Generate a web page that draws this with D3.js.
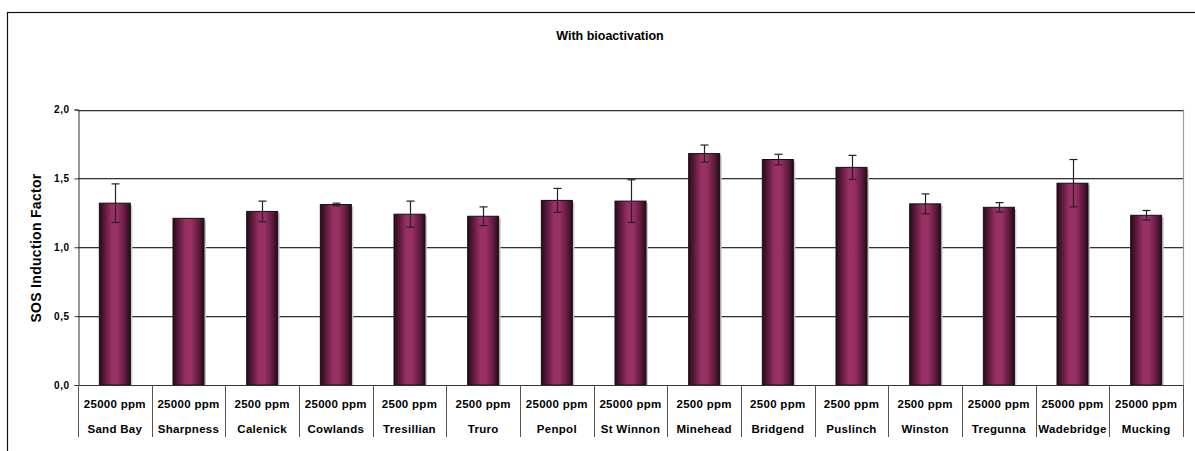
<!DOCTYPE html>
<html>
<head>
<meta charset="utf-8">
<script src="https://cdn.jsdelivr.net/npm/d3@7"></script>
<style>
  html, body { margin: 0; padding: 0; background: #fff; }
  svg { display: block; font-family: "Liberation Sans", Arial, sans-serif; font-weight: bold; }
</style>
</head>
<body>
<div class="chart"></div>
<script>
// chart data
var sites = ["Sand Bay", "Sharpness", "Calenick", "Cowlands", "Tresillian", "Truro", "Penpol",
  "St Winnon", "Minehead", "Bridgend", "Puslinch", "Winston", "Tregunna", "Wadebridge", "Mucking"];
var doses = ["25000 ppm", "25000 ppm", "2500 ppm", "25000 ppm", "2500 ppm", "2500 ppm", "25000 ppm",
  "25000 ppm", "2500 ppm", "2500 ppm", "2500 ppm", "2500 ppm", "25000 ppm", "25000 ppm", "25000 ppm"];
var values = [1.32, 1.21, 1.26, 1.31, 1.24, 1.225, 1.34, 1.335, 1.68, 1.637, 1.58, 1.315, 1.29, 1.465, 1.232];
var errors = [0.14, 0, 0.075, 0.01, 0.095, 0.068, 0.087, 0.155, 0.062, 0.038, 0.087, 0.072, 0.034, 0.172, 0.035];
var yTicks = [0, 0.5, 1.0, 1.5, 2.0];
var title = "With bioactivation";
var yTitle = "SOS Induction Factor";

var svgWidth = 1195;
var svgHeight = 451;
var plot = {left: 78, right: 1183, top: 109.5, bottom: 385};

var svg = d3.select(".chart").append("svg")
  .attr("width", svgWidth)
  .attr("height", svgHeight);

// outer chart frame (runs off the right and bottom edge)
svg.append("rect")
  .attr("x", 7.5).attr("y", 12.5)
  .attr("width", 1200).attr("height", 460)
  .attr("fill", "#fff").attr("stroke", "#111").attr("stroke-width", 1.2);

var defs = svg.append("defs");
var grad = defs.append("linearGradient").attr("id", "barGrad")
  .attr("x1", "0%").attr("x2", "100%").attr("y1", "0%").attr("y2", "0%");
[["0%", "#2a0a1b"], ["18%", "#5c1a3c"], ["40%", "#983063"], ["58%", "#9a3165"], ["82%", "#621c41"], ["100%", "#2a0a1b"]]
  .forEach(function(s) { grad.append("stop").attr("offset", s[0]).attr("stop-color", s[1]); });

var x = d3.scaleBand().domain(sites).range([plot.left, plot.right]).padding(0);
var y = d3.scaleLinear().domain([0, 2]).range([plot.bottom, plot.top]);

// plot area right border
svg.append("line")
  .attr("x1", plot.right + 0.5).attr("x2", plot.right + 0.5)
  .attr("y1", plot.top).attr("y2", plot.bottom)
  .attr("stroke", "#999").attr("stroke-width", 1.2);

// gridlines with their light shadow
var grid = svg.append("g");
yTicks.filter(function(d) { return d > 0; }).forEach(function(t) {
  grid.append("line")
    .attr("x1", plot.left).attr("x2", plot.right)
    .attr("y1", Math.round(y(t)) + 1.5).attr("y2", Math.round(y(t)) + 1.5)
    .attr("stroke", "#c4c4c4");
  grid.append("line")
    .attr("x1", plot.left).attr("x2", plot.right)
    .attr("y1", Math.round(y(t)) + 0.5).attr("y2", Math.round(y(t)) + 0.5)
    .attr("stroke", "#333");
});

// y axis
var leftAxis = d3.axisLeft(y).tickValues(yTicks).tickSize(4).tickPadding(5)
  .tickFormat(function(d) { return d3.format(".1f")(d).replace(".", ","); });
var yAxis = svg.append("g").attr("transform", "translate(" + (plot.left + 0.5) + ",0)").call(leftAxis);
yAxis.select(".domain").attr("stroke", "#333");
yAxis.selectAll(".tick line").attr("stroke", "#333");
yAxis.selectAll("text")
  .attr("font-family", "Liberation Sans, Arial, sans-serif")
  .attr("font-weight", "bold")
  .attr("font-size", "10px")
  .attr("letter-spacing", "0.5px")
  .attr("fill", "#000");

// bars
var barW = 31;
var bars = svg.append("g");
bars.selectAll(".shadow").data(values).enter().append("rect")
  .attr("class", "shadow")
  .attr("x", function(d, i) { return x(sites[i]) + x.bandwidth() / 2 - barW / 2 + 2; })
  .attr("y", function(d) { return y(d) + 2; })
  .attr("width", barW)
  .attr("height", function(d) { return plot.bottom - y(d) - 2; })
  .attr("fill", "#c8c8c8");
bars.selectAll(".bar").data(values).enter().append("rect")
  .attr("class", "bar")
  .attr("x", function(d, i) { return x(sites[i]) + x.bandwidth() / 2 - barW / 2; })
  .attr("y", function(d) { return y(d); })
  .attr("width", barW)
  .attr("height", function(d) { return plot.bottom - y(d); })
  .attr("fill", "url(#barGrad)")
  .attr("stroke", "#111").attr("stroke-width", 1);

// error bars
var err = svg.append("g").attr("stroke", "#222").attr("stroke-width", 1.2);
values.forEach(function(v, i) {
  if (!errors[i]) return;
  var cx = Math.round(x(sites[i]) + x.bandwidth() / 2) + 0.5;
  var y0 = y(v + errors[i]), y1 = y(v - errors[i]);
  err.append("line").attr("x1", cx).attr("x2", cx).attr("y1", y0).attr("y2", y1);
  err.append("line").attr("x1", cx - 4).attr("x2", cx + 4).attr("y1", y0).attr("y2", y0);
  err.append("line").attr("x1", cx - 4).attr("x2", cx + 4).attr("y1", y1).attr("y2", y1);
});

// category axis with two label rows
var cat = svg.append("g");
cat.append("line")
  .attr("x1", plot.left).attr("x2", plot.right)
  .attr("y1", plot.bottom + 0.5).attr("y2", plot.bottom + 0.5)
  .attr("stroke", "#333");
var bounds = sites.map(function(s) { return x(s); }).concat([plot.right]);
cat.selectAll(".div").data(bounds).enter().append("line")
  .attr("x1", function(d) { return Math.round(d) + 0.5; })
  .attr("x2", function(d) { return Math.round(d) + 0.5; })
  .attr("y1", plot.bottom).attr("y2", 437)
  .attr("stroke", "#555");
cat.selectAll(".dose").data(doses).enter().append("text")
  .attr("x", function(d, i) { return x(sites[i]) + x.bandwidth() / 2; })
  .attr("y", 407.5)
  .attr("text-anchor", "middle")
  .attr("font-size", "11.5px")
  .attr("letter-spacing", "0.3px")
  .text(function(d) { return d; });
cat.selectAll(".site").data(sites).enter().append("text")
  .attr("x", function(d) { return x(d) + x.bandwidth() / 2; })
  .attr("y", 432.5)
  .attr("text-anchor", "middle")
  .attr("font-size", "11.5px")
  .attr("letter-spacing", "0.3px")
  .text(function(d) { return d; });

// titles
svg.append("text")
  .attr("x", 610).attr("y", 40)
  .attr("text-anchor", "middle")
  .attr("font-size", "12.5px")
  .text(title);
svg.append("text")
  .attr("transform", "translate(41,248) rotate(-90)")
  .attr("text-anchor", "middle")
  .attr("font-size", "14px")
  .attr("letter-spacing", "0.3px")
  .text(yTitle);
</script>
</body>
</html>
